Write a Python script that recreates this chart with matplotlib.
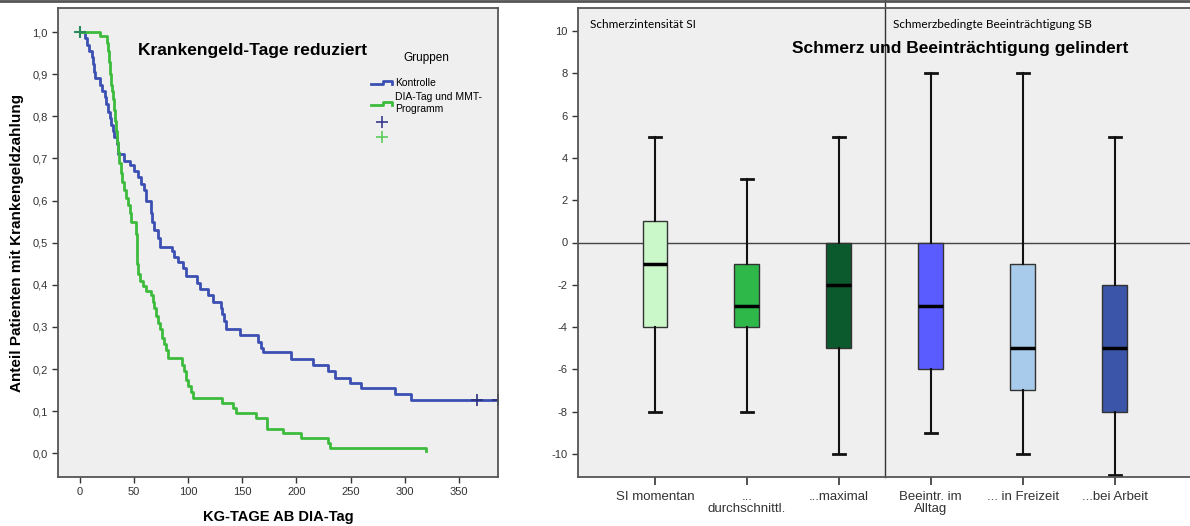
import numpy as np
import matplotlib
matplotlib.use("Agg")
import matplotlib.pyplot as plt
from matplotlib.lines import Line2D
from matplotlib.legend_handler import HandlerBase

plt.rcParams['font.family'] = ['Liberation Sans', 'DejaVu Sans']

# ---------------- data: Kaplan-Meier (left) ----------------
km_ctrl_t = [0, 5, 7, 9, 11, 12, 13, 14, 19, 21, 23, 24, 26, 28, 29, 31, 32, 34, 35,
             41, 46, 50, 54, 57, 59, 61, 66, 67, 69, 72, 74, 85, 87, 91, 95, 98, 108,
             111, 118, 123, 130, 131, 133, 135, 148, 165, 167, 169, 195, 215, 229,
             236, 249, 260, 291, 306, 386]
km_ctrl_s = [1.0, 0.985, 0.97, 0.955, 0.94, 0.925, 0.905, 0.89, 0.875, 0.86, 0.845, 0.83,
             0.81, 0.795, 0.78, 0.765, 0.75, 0.735, 0.71, 0.695, 0.685, 0.67, 0.655, 0.64,
             0.625, 0.6, 0.57, 0.55, 0.53, 0.51, 0.49, 0.48, 0.465, 0.455, 0.44, 0.42,
             0.405, 0.39, 0.375, 0.36, 0.345, 0.33, 0.315, 0.295, 0.28, 0.265, 0.25, 0.24,
             0.225, 0.21, 0.195, 0.18, 0.167, 0.155, 0.14, 0.126, 0.126]
km_ctrl_cens = [367, 386]

km_dia_t = [0, 19, 25, 26, 27, 28, 28.5, 29.5, 30.5, 31.5, 32.5, 33.5, 34.5, 35.5, 36.5,
            38, 39.5, 41, 43, 44.5, 46, 47.5, 52, 52.5, 53, 53.5, 55.5, 58.5, 61, 66,
            67.5, 69, 70.5, 72, 74, 76, 78, 80, 81.5, 94, 96, 98, 100, 102.5, 104.5,
            131, 141.5, 144.5, 163, 172.5, 187.5, 204.5, 229, 231, 320]
km_dia_s = [1.0, 0.99, 0.975, 0.955, 0.93, 0.9, 0.875, 0.86, 0.84, 0.815, 0.79, 0.765,
            0.74, 0.715, 0.69, 0.665, 0.645, 0.625, 0.605, 0.59, 0.57, 0.55, 0.52, 0.48,
            0.45, 0.425, 0.41, 0.398, 0.385, 0.375, 0.36, 0.345, 0.325, 0.31, 0.295,
            0.275, 0.26, 0.245, 0.227, 0.21, 0.195, 0.175, 0.16, 0.145, 0.132, 0.12,
            0.108, 0.096, 0.0845, 0.059, 0.049, 0.037, 0.025, 0.012, 0.005]
km_dia_cens = [0]

km_xticks = [0, 50, 100, 150, 200, 250, 300, 350]
km_yticks = [0.0, 0.1, 0.2, 0.3, 0.4, 0.5, 0.6, 0.7, 0.8, 0.9, 1.0]
km_yticklabels = ["0,0", "0,1", "0,2", "0,3", "0,4", "0,5", "0,6", "0,7", "0,8", "0,9", "1,0"]

# ---------------- data: boxplots (right) ----------------
box_labels = ["SI momentan", "...\ndurchschnittl.", "...maximal",
              "Beeintr. im\nAlltag", "... in Freizeit", "...bei Arbeit"]
box_whislo = [-8, -8, -10, -9, -10, -11]
box_q1 = [-4, -4, -5, -6, -7, -8]
box_med = [-1, -3, -2, -3, -5, -5]
box_q3 = [1, -1, 0, 0, -1, -2]
box_whishi = [5, 3, 5, 8, 8, 5]
box_colors = ["#cbf8c8", "#2fb84a", "#0b5a2e", "#5a5cff", "#a9cbeb", "#3b55a8"]
box_yticks = [-10, -8, -6, -4, -2, 0, 2, 4, 6, 8, 10]

BLUE = "#3c4fb2"
GREEN = "#3dbb3d"
BG = "#efefef"
SPINE = "#555555"

W, H = 1190, 526
fig = plt.figure(figsize=(W / 100, H / 100), dpi=100)


def px_box(x0, y0, x1, y1):
    return [x0 / W, 1 - y1 / H, (x1 - x0) / W, (y1 - y0) / H]


# ==========================
# LEFT: Kaplan-Meier
# ==========================
ax1 = fig.add_axes(px_box(58, 8, 498, 477))
ax1.set_facecolor(BG)
ax1.step(km_ctrl_t, km_ctrl_s, where="post", color=BLUE, lw=2.0, label="Kontrolle")
ax1.step(km_dia_t, km_dia_s, where="post", color=GREEN, lw=2.0,
         label="DIA-Tag und MMT-\nProgramm")
ax1.plot(km_ctrl_cens, [km_ctrl_s[-1]] * len(km_ctrl_cens), "+", color="#2c2f7a",
         ms=8, mew=1.2)
ax1.plot(km_dia_cens, [1.0] * len(km_dia_cens), "+", color="#2a8a5a", ms=8, mew=1.5)

ax1.set_xlim(-20, 386)
ax1.set_ylim(-0.056, 1.057)
ax1.set_xticks(km_xticks)
ax1.set_yticks(km_yticks)
ax1.set_yticklabels(km_yticklabels)
ax1.tick_params(labelsize=8, colors="#333333", length=4, width=1, direction="out")
for s in ax1.spines.values():
    s.set_color(SPINE)
    s.set_linewidth(1.3)

ax1.set_ylabel("Anteil Patienten mit Krankengeldzahlung", fontsize=11,
               fontweight="bold", labelpad=6)
ax1.set_xlabel("KG-TAGE AB DIA-Tag", fontsize=10.5, fontweight="bold", labelpad=9)
ax1.text((138 - 58) / 440, 1 - (50 - 8) / 469, "Krankengeld-Tage reduziert",
         transform=ax1.transAxes, fontsize=12.5, fontweight="bold", va="center", ha="left")


class StepHandler(HandlerBase):
    def create_artists(self, legend, orig_handle, xdescent, ydescent, width, height,
                       fontsize, trans):
        x0 = -xdescent
        y0 = -ydescent
        xs = [x0, x0 + 0.55 * width, x0 + 0.55 * width, x0 + width, x0 + width]
        ys = [y0 + 0.25 * height, y0 + 0.25 * height, y0 + 0.75 * height,
              y0 + 0.75 * height, y0 + 0.25 * height]
        ln = Line2D(xs, ys, color=orig_handle.get_color(), lw=2.0, transform=trans)
        return [ln]


h_ctrl = Line2D([], [], color=BLUE)
h_dia = Line2D([], [], color=GREEN)
h_pc = Line2D([], [], ls="none", marker="+", color="#3a3a8c", ms=9, mew=1.2)
h_pd = Line2D([], [], ls="none", marker="+", color="#5ccc5c", ms=9, mew=1.2)
leg = ax1.legend([h_ctrl, h_dia, h_pc, h_pd],
                 ["Kontrolle", "DIA-Tag und MMT-\nProgramm", "", ""],
                 handler_map={h_ctrl: StepHandler(), h_dia: StepHandler()},
                 title="Gruppen", title_fontsize=8.5, fontsize=7.5,
                 loc="upper left", bbox_to_anchor=((366 - 58) / 440, 1 - (47 - 8) / 469),
                 frameon=False, borderpad=0, handlelength=2.0, handletextpad=0.3,
                 labelspacing=0.4)
leg._legend_box.sep = 10

# ==========================
# RIGHT: boxplots
# ==========================
ax2 = fig.add_axes(px_box(578, 8, 1190, 477))
ax2.set_facecolor(BG)
stats = []
for i in range(len(box_labels)):
    stats.append(dict(med=box_med[i], q1=box_q1[i], q3=box_q3[i],
                      whislo=box_whislo[i], whishi=box_whishi[i], fliers=[]))
positions = np.arange(1, len(box_labels) + 1)
bp = ax2.bxp(stats, positions=positions, widths=0.27, patch_artist=True,
             showfliers=False, capwidths=0.13,
             boxprops=dict(edgecolor="#333333", linewidth=1.0),
             medianprops=dict(color="black", linewidth=2.5),
             whiskerprops=dict(color="#111111", linewidth=1.5),
             capprops=dict(color="#111111", linewidth=2.0))
for patch, c in zip(bp["boxes"], box_colors):
    patch.set_facecolor(c)
for ln in bp["caps"]:
    ln.set_clip_on(False)

ax2.axhline(0, color="#444444", lw=1.0, zorder=1)
ax2.axvline(3.5, ymin=0, ymax=1 + 9 / 469, color="#333333", lw=1.0, clip_on=False)

ax2.set_xlim(0.163, 6.82)
ax2.set_ylim(-11.1, 11.1)
ax2.set_yticks(box_yticks)
ax2.set_yticklabels([str(v) for v in box_yticks])
ax2.set_xticks(positions)
ax2.set_xticklabels(box_labels, fontsize=9.5, linespacing=1.0)
ax2.tick_params(axis="y", labelsize=8, colors="#333333", length=4, width=1)
ax2.tick_params(axis="x", colors="#333333", length=6, width=1.2, pad=4)
for s in ax2.spines.values():
    s.set_color(SPINE)
    s.set_linewidth(1.3)
ax2.spines["right"].set_visible(False)

ax2.text((590 - 578) / 612, 1 - (25 - 8) / 469, "Schmerzintensität SI",
         transform=ax2.transAxes, fontsize=8.5, family="Lato", va="center", ha="left")
ax2.text((893 - 578) / 612, 1 - (25 - 8) / 469, "Schmerzbedingte Beeinträchtigung SB",
         transform=ax2.transAxes, fontsize=8.5, family="Lato", va="center", ha="left")
ax2.text((960 - 578) / 612, 1 - (48 - 8) / 469, "Schmerz und Beeinträchtigung gelindert",
         transform=ax2.transAxes, fontsize=12.5, fontweight="bold", va="center",
         ha="center")

# top border line
fig.add_artist(Line2D([0, 1], [1 - 1 / H, 1 - 1 / H], transform=fig.transFigure,
                      color="#555555", lw=2))

fig.savefig("out.png", dpi=100)
